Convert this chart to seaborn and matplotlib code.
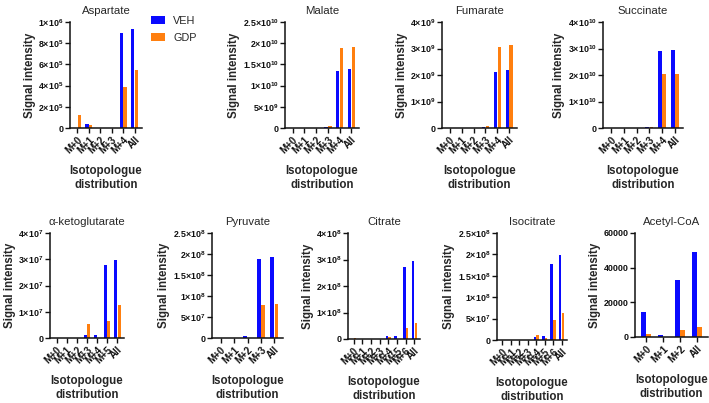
import math
import matplotlib
matplotlib.use("Agg")
import matplotlib.pyplot as plt
import matplotlib.ticker as mticker
import seaborn as sns
import pandas as pd

# data (signal intensity per isotopologue)
iso6 = ["M+0", "M+1", "M+2", "M+3", "M+4", "All"]
iso7 = ["M+0", "M+1", "M+2", "M+3", "M+4", "M+5", "All"]
iso5 = ["M+0", "M+1", "M+2", "M+3", "All"]
iso8 = ["M+0", "M+1", "M+2", "M+3", "M+4", "M+5", "M+6", "All"]
iso4 = ["M+0", "M+1", "M+2", "All"]

asp_veh = [0, 3.5e4, 0, 0, 9.0e5, 9.3e5]
asp_gdp = [1.2e5, 3.2e4, 0, 0, 3.9e5, 5.5e5]
mal_veh = [0, 0, 0, 3e8, 1.35e10, 1.38e10]
mal_gdp = [0, 0, 0, 4e8, 1.88e10, 1.92e10]
fum_veh = [0, 0, 0, 5e7, 2.13e9, 2.2e9]
fum_gdp = [0, 0, 0, 7e7, 3.05e9, 3.13e9]
suc_veh = [0, 0, 0, 5e8, 2.9e10, 2.95e10]
suc_gdp = [0, 0, 0, 3e8, 2.02e10, 2.05e10]
akg_veh = [0, 0, 0, 1e6, 1e6, 2.78e7, 2.98e7]
akg_gdp = [0, 0, 0, 5.5e6, 0, 6.3e6, 1.25e7]
pyr_veh = [0, 0, 4e6, 1.88e8, 1.92e8]
pyr_gdp = [0, 0, 5e5, 7.8e7, 8.0e7]
cit_veh = [0, 0, 0, 0, 1.0e7, 1.2e7, 2.7e8, 2.95e8]
cit_gdp = [3e6, 0, 0, 0, 8e6, 1e6, 4.3e7, 6.0e7]
ici_veh = [0, 0, 0, 0, 8e6, 1.0e7, 1.78e8, 1.99e8]
ici_gdp = [0, 0, 0, 0, 1.2e7, 4e6, 4.6e7, 6.4e7]
aco_veh = [14500, 1300, 32800, 48800]
aco_gdp = [1800, 0, 4200, 6000]

panels = [
    ("Aspartate", iso6, asp_veh, asp_gdp, 1e6, 2e5),
    ("Malate", iso6, mal_veh, mal_gdp, 2.5e10, 5e9),
    ("Fumarate", iso6, fum_veh, fum_gdp, 4e9, 1e9),
    ("Succinate", iso6, suc_veh, suc_gdp, 4e10, 1e10),
    ("α-ketoglutarate", iso7, akg_veh, akg_gdp, 4e7, 1e7),
    ("Pyruvate", iso5, pyr_veh, pyr_gdp, 2.5e8, 5e7),
    ("Citrate", iso8, cit_veh, cit_gdp, 4e8, 1e8),
    ("Isocitrate", iso8, ici_veh, ici_gdp, 2.5e8, 5e7),
    ("Acetyl-CoA", iso4, aco_veh, aco_gdp, 60000, 20000),
]

# axes boxes in pixels: left, top, right, bottom
boxes = [
    (70, 22, 142, 128), (285, 22, 359, 128), (442, 22, 517, 128), (603, 22, 683, 128),
    (50, 233, 124, 338), (212, 233, 283, 338), (348, 233, 420, 339),
    (497, 233, 567, 340), (635, 233, 708, 337),
]

sns.set_theme(style="ticks")
plt.rcParams["font.family"] = ["Liberation Sans", "DejaVu Sans"]
plt.rcParams["font.weight"] = "bold"
plt.rcParams["mathtext.fontset"] = "custom"
plt.rcParams["mathtext.rm"] = "Liberation Sans:bold"
plt.rcParams["mathtext.bf"] = "Liberation Sans:bold"
plt.rcParams["mathtext.default"] = "bf"


def sci(v, pos=None):
    if v == 0:
        return "0"
    e = int(math.floor(math.log10(abs(v)) + 1e-9))
    m = v / 10 ** e
    return r"$%g{\times}10^{%d}$" % (round(m, 2), e)


W, H = 709, 403
fig = plt.figure(figsize=(W / 100, H / 100), dpi=100)
pal = {"VEH": "#0A0AFF", "GDP": "#FF7F0F"}

for i, (name, cats, veh, gdp, ymax, step) in enumerate(panels):
    l, t, r, b = boxes[i]
    ax = fig.add_axes([l / W, 1 - b / H, (r - l) / W, (b - t) / H])
    df = pd.DataFrame({
        "iso": cats * 2,
        "group": ["VEH"] * len(cats) + ["GDP"] * len(cats),
        "value": veh + gdp,
    })
    sns.barplot(data=df, x="iso", y="value", hue="group", palette=pal,
                width=0.66, gap=0.1, ax=ax, legend=(i == 0), saturation=1,
                linewidth=0)
    n = len(cats)
    ax.set_xlim(-0.65, n - 0.35)
    ax.set_ylim(0, ymax)
    ax.yaxis.set_major_locator(mticker.MultipleLocator(step))
    if name == "Acetyl-CoA":
        ax.yaxis.set_major_formatter(mticker.FuncFormatter(lambda v, p: "%d" % v))
    else:
        ax.yaxis.set_major_formatter(mticker.FuncFormatter(sci))
    sns.despine(ax=ax)
    for s in ("left", "bottom"):
        ax.spines[s].set_linewidth(1.1)
        ax.spines[s].set_color("#111111")
    ax.tick_params(axis="both", length=3.5, width=1.0, color="#111111",
                   pad=1.5, labelcolor="#111111")
    ax.tick_params(axis="x", labelsize=7)
    ax.tick_params(axis="y", labelsize=6.4, pad=1)
    for lab in ax.get_xticklabels():
        lab.set_rotation(45)
        lab.set_ha("right")
        lab.set_rotation_mode("anchor")
    ax.set_title(name, fontsize=8.2, pad=6, fontweight="normal")
    ax.set_xlabel("Isotopologue\ndistribution", fontsize=8.3, fontweight="bold",
                  labelpad=7)
    ax.set_ylabel("Signal intensity", fontsize=8.3, fontweight="bold", labelpad=2)
    if i == 0:
        sns.move_legend(ax, "upper left", bbox_to_anchor=(1.06, 1.1), frameon=False,
                        title=None, fontsize=7.8, handlelength=1.3, handleheight=0.7,
                        labelspacing=0.65, handletextpad=0.8, borderaxespad=0)
        for txt in ax.get_legend().get_texts():
            txt.set_fontweight("normal")

fig.savefig("out.png", dpi=100)
